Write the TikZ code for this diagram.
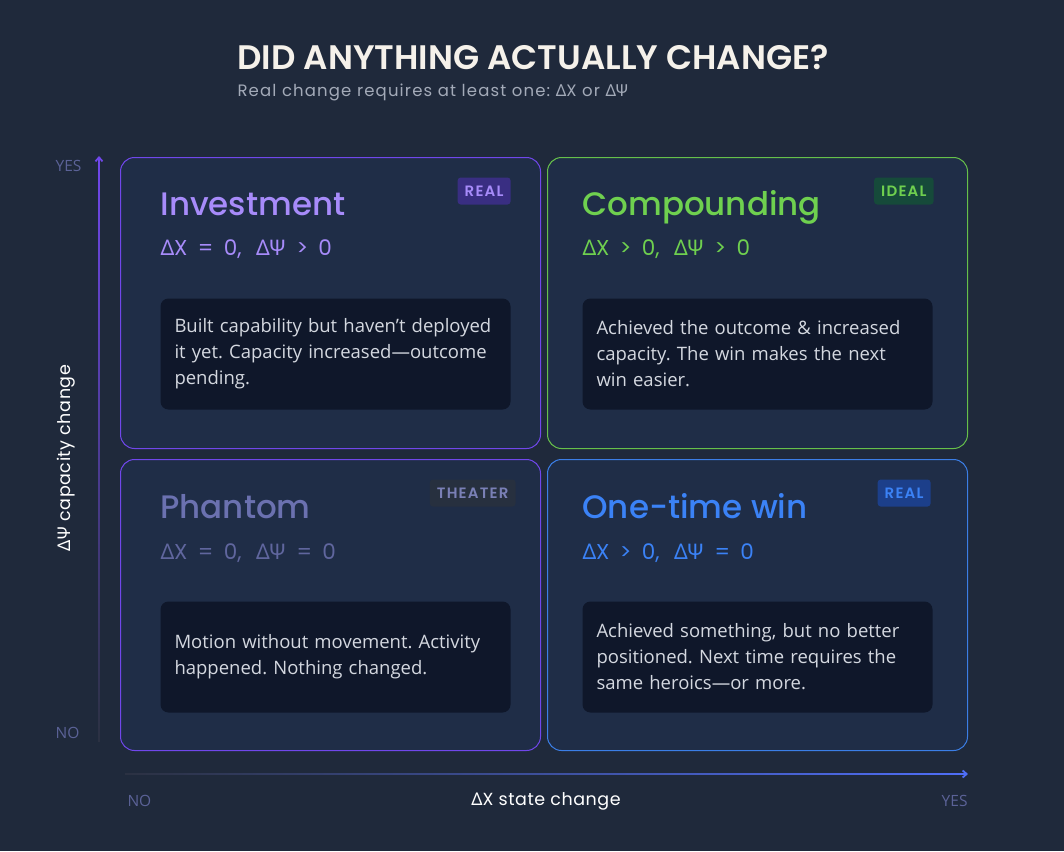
\documentclass[tikz,border=0pt]{standalone}
\usepackage{fontspec}
\setmainfont{Open Sans}
\newfontfamily\headfont{Poppins Medium}
\newfontfamily\headbold{Poppins SemiBold}
\newfontfamily\formfont{Poppins}
\newfontfamily\badgefont{Poppins SemiBold}[LetterSpace=8]
\newfontfamily\subfont{Poppins}[LetterSpace=7]
\newfontfamily\axfont{Poppins}[LetterSpace=3]
\newfontfamily\grk{Noto Sans}
\usetikzlibrary{arrows.meta}

\definecolor{bgcol}{HTML}{1F293B}
\definecolor{cardfill}{HTML}{1F2D47}
\definecolor{descfill}{HTML}{0F172A}
\definecolor{desctext}{HTML}{D4D8E0}
\definecolor{titlecol}{HTML}{F5F1EA}
\definecolor{subcol}{HTML}{A3AAB8}
\definecolor{axdark}{HTML}{2B3142}
\definecolor{axtick}{HTML}{5B6297}
\definecolor{violetB}{HTML}{7047EB}
\definecolor{violetT}{HTML}{A78BFA}
\definecolor{violetF}{HTML}{392E82}
\definecolor{greenB}{HTML}{66C04A}
\definecolor{greenT}{HTML}{6FD04F}
\definecolor{greenF}{HTML}{164A3A}
\definecolor{greyT}{HTML}{6B71B0}
\definecolor{greyF}{HTML}{27303F}
\definecolor{greyBadge}{HTML}{7A80B6}
\definecolor{blueB}{HTML}{3B7EE6}
\definecolor{blueT}{HTML}{3B82F6}
\definecolor{blueF}{HTML}{1C3F8A}
\definecolor{blueAx}{HTML}{4F6EF7}

\newcommand\DX{{\grk Δ}X}
\newcommand\DP{{\grk ΔΨ}}
% gap inside the formulas
\newcommand\fgap{\hspace{0.48em}}
\newcommand\cgap{\hspace{0.68em}}

\tikzset{every picture/.style={line width=1pt}}
\tikzset{
  card/.style={draw, fill=cardfill, rounded corners=14pt, line width=1pt,
    minimum width=420pt, minimum height=291pt, anchor=north west, inner sep=0pt},
  ttl/.style={anchor=base west, inner sep=0pt, font=\headfont\fontsize{32.5}{36}\selectfont},
  formula/.style={anchor=base west, inner sep=0pt, font=\formfont\fontsize{21.5}{24}\selectfont},
  badge/.style={anchor=north east, rounded corners=3pt, minimum height=27pt, inner xsep=7pt,
    inner ysep=0pt, font=\badgefont\fontsize{15}{16}\selectfont},
  desc/.style={anchor=north west, fill=descfill, rounded corners=8pt, text=desctext,
    minimum width=350pt, minimum height=111pt, text width=322pt, inner xsep=14pt,
    align=left, font=\fontsize{18.5}{26}\selectfont},
  tick/.style={inner sep=0pt, text=axtick, font=\fontsize{15.5}{17}\selectfont},
  axlabel/.style={inner sep=0pt, text=white, font=\axfont\fontsize{17.5}{20}\selectfont}
}

\begin{document}
\frenchspacing
\begin{tikzpicture}[x=1pt,y=1pt,yscale=-1,xscale=1]
%set diagram to 1064 x 851
\useasboundingbox[fill=bgcol] (0,0) rectangle (1064,851);

% Text Node
\node[anchor=base west, inner sep=0pt, text=titlecol, font=\headbold\fontsize{34}{38}\selectfont] (title) at (237,70) {DID ANYTHING ACTUALLY CHANGE?};
% Text Node
\node[anchor=base west, inner sep=0pt, text=subcol, font=\subfont\fontsize{16.5}{18}\selectfont] (subtitle) at (237,96) {Real change requires at least one: \DX{} or \DP};

%Shape: Rectangle [Investment]
\node[card, draw=violetB] (inv) at (120,157) {};
\node[ttl, text=violetT] (invT) at (160,215) {Investment};
\node[formula, text=violetT] (invF) at (160,255) {\DX\fgap=\fgap0,\cgap\DP\fgap>\fgap0};
\node[badge, fill=violetF, text=violetT] (invB) at (511,177) {REAL};
\node[desc] (invD) at (160,298) {Built capability but haven't deployed\\it yet. Capacity increased—outcome\\pending.};

%Shape: Rectangle [Compounding]
\node[card, draw=greenB] (cmp) at (547,157) {};
\node[ttl, text=greenT] (cmpT) at (582,215) {Compounding};
\node[formula, text=greenT] (cmpF) at (582,255) {\DX\fgap>\fgap0,\cgap\DP\fgap>\fgap0};
\node[badge, fill=greenF, text=greenT] (cmpB) at (934,177) {IDEAL};
\node[desc] (cmpD) at (582,298) {Achieved the outcome \& increased\\capacity. The win makes the next\\win easier.};

%Shape: Rectangle [Phantom]
\node[card, draw=violetB] (phn) at (120,459) {};
\node[ttl, text=greyT] (phnT) at (160,518) {Phantom};
\node[formula, text=greyT!90!black] (phnF) at (160,559) {\DX\fgap=\fgap0,\cgap\DP\fgap=\fgap0};
\node[badge, fill=greyF, text=greyBadge] (phnB) at (516,479) {THEATER};
\node[desc] (phnD) at (160,601) {Motion without movement. Activity\\happened. Nothing changed.};

%Shape: Rectangle [One-time win]
\node[card, draw=blueB] (one) at (547,459) {};
\node[ttl, text=blueT] (oneT) at (582,518) {One-time win};
\node[formula, text=blueT] (oneF) at (582,559) {\DX\fgap>\fgap0,\cgap\DP\fgap=\fgap0};
\node[badge, fill=blueF, text=blueT] (oneB) at (931,479) {REAL};
\node[desc] (oneD) at (582,601) {Achieved something, but no better\\positioned. Next time requires the\\same heroics—or more.};

%Straight Lines [y axis]
\coordinate (yBot) at (99,741);
\coordinate (yTop) at (99,156);
\shade[bottom color=axdark, top color=violetB] (98.1,741) rectangle (99.9,162);
\draw[violetB, line width=1.8pt, -{Straight Barb[length=4pt,width=7pt]}] (99,165) -- (yTop);
%Straight Lines [x axis]
\coordinate (xLeft) at (125,774);
\coordinate (xRight) at (968,774);
\shade[left color=axdark, right color=blueAx] (125,773.1) rectangle (962,774.9);
\draw[blueAx, line width=1.8pt, -{Straight Barb[length=4pt,width=7pt]}] (959,774) -- (xRight);

% Text Node
\node[tick, anchor=east] (yYes) at (82,166) {YES};
% Text Node
\node[tick, anchor=east] (yNo) at (80,733) {NO};
% Text Node
\node[axlabel, rotate=90] (yLab) at (66,458) {\DP{} capacity change};
% Text Node
\node[tick, anchor=west] (xNo) at (127,801) {NO};
% Text Node
\node[tick, anchor=east] (xYes) at (968,801) {YES};
% Text Node
\node[axlabel] (xLab) at (546,801) {\DX{} state change};

\end{tikzpicture}
\end{document}
